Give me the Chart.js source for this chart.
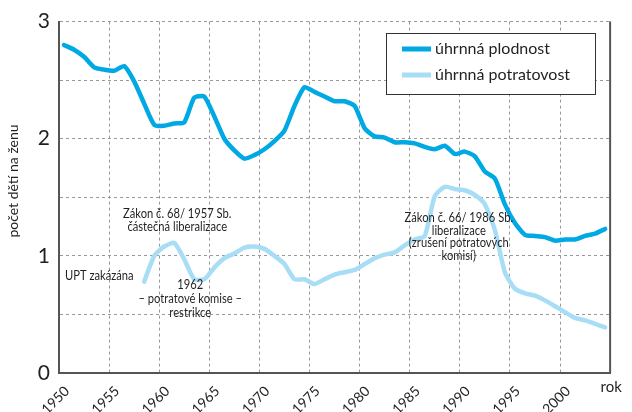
<!DOCTYPE html>
<html><head><meta charset="utf-8">
<title>Úhrnná plodnost a potratovost</title>
<script src="https://cdn.jsdelivr.net/npm/chart.js"></script>
<style>
  html, body { margin: 0; padding: 0; background: #ffffff; }
  #wrap { width: 632px; height: 412px; position: relative; }
</style>
</head>
<body>
<div id="wrap"><canvas id="chart" width="632" height="412"></canvas></div>
<script>
// roky a hodnoty
const plodnostYears = [1950,1951,1952,1953,1954,1955,1956,1957,1958,1959,
  1960,1961,1962,1963,1964,1965,1966,1967,1968,1969,
  1970,1971,1972,1973,1974,1975,1976,1977,1978,1979,
  1980,1981,1982,1983,1984,1985,1986,1987,1988,1989,
  1990,1991,1992,1993,1994,1995,1996,1997,1998,1999,
  2000,2001,2002,2003,2004];
const plodnost = [2.80,2.76,2.70,2.61,2.59,2.58,2.62,2.49,2.30,2.12,
  2.11,2.13,2.14,2.35,2.36,2.19,2.00,1.90,1.83,1.86,
  1.91,1.98,2.07,2.28,2.44,2.40,2.36,2.32,2.32,2.28,
  2.09,2.02,2.01,1.97,1.97,1.96,1.93,1.91,1.94,1.87,
  1.89,1.85,1.72,1.66,1.44,1.28,1.18,1.17,1.16,1.13,
  1.14,1.14,1.17,1.19,1.23];

const potratYears = [1958,1959,
  1960,1961,1962,1963,1964,1965,1966,1967,1968,1969,
  1970,1971,1972,1973,1974,1975,1976,1977,1978,1979,
  1980,1981,1982,1983,1984,1985,1986,1987,1988,1989,
  1990,1991,1992,1993,1994,1995,1996,1997,1998,1999,
  2000,2001,2002,2003,2004];
const potratovost = [0.78,1.00,
  1.08,1.11,0.97,0.80,0.80,0.90,0.98,1.02,1.07,1.08,
  1.06,1.00,0.93,0.80,0.80,0.76,0.80,0.84,0.86,0.88,
  0.93,0.98,1.01,1.03,1.09,1.14,1.17,1.51,1.59,1.57,
  1.56,1.52,1.44,1.22,0.86,0.72,0.68,0.66,0.62,0.57,
  0.52,0.47,0.45,0.42,0.39];

const seriesNames = ['úhrnná plodnost', 'úhrnná potratovost'];
const yTickLabels = ['0', '1', '2', '3'];

const notes = [
  { x: 1961.8, y: 1.36, align: 'center', lines: ['Zákon č. 68/ 1957 Sb.', 'částečná liberalizace'], lh: 13 },
  { x: 1957.45, y: 0.83, align: 'right', lines: ['UPT zakázána'], lh: 13 },
  { x: 1963.1, y: 0.75, align: 'center', lines: ['1962', '– potratové komise –', 'restrikce'], lh: 14 },
  { x: 1989.9, y: 1.325, align: 'center', lines: ['Zákon č. 66/ 1986 Sb.', 'liberalizace', '(zrušení potratových', 'komisí)'], lh: 12.7 }
];

const C_PLOD = '#00a9e4';
const C_POTR = '#a8ddf6';
const TXT = '#231f20';

// data bod leží uprostřed roku
const toPoints = (years, vals) => years.map((y, i) => ({ x: y + 0.5, y: vals[i] }));

const extras = {
  id: 'extras',
  afterDraw(chart) {
    const ctx = chart.ctx;
    const a = chart.chartArea;
    const xs = chart.scales.x, ys = chart.scales.y;
    ctx.save();

    // pravý okraj
    ctx.strokeStyle = '#555';
    ctx.lineWidth = 2;
    ctx.beginPath();
    ctx.moveTo(a.right, a.top);
    ctx.lineTo(a.right, a.bottom);
    ctx.stroke();

    // legenda
    ctx.fillStyle = '#fff';
    ctx.fillRect(386, 33, 209, 61);
    ctx.strokeStyle = '#333';
    ctx.lineWidth = 1;
    ctx.strokeRect(386.5, 33.5, 209, 61);
    [C_PLOD, C_POTR].forEach((c, i) => {
      const ly = 49 + i * 26;
      ctx.strokeStyle = c;
      ctx.lineWidth = 5;
      ctx.beginPath();
      ctx.moveTo(402, ly);
      ctx.lineTo(431, ly);
      ctx.stroke();
      ctx.fillStyle = TXT;
      ctx.font = '16px "Lato", sans-serif';
      ctx.textAlign = 'left';
      ctx.textBaseline = 'middle';
      ctx.fillText(seriesNames[i], 435, ly);
    });

    // poznámky (zúžené písmo)
    ctx.font = '13px "Lato", sans-serif';
    ctx.fillStyle = TXT;
    ctx.textBaseline = 'middle';
    notes.forEach(n => {
      const px = xs.getPixelForValue(n.x);
      const py = ys.getPixelForValue(n.y);
      ctx.textAlign = n.align;
      n.lines.forEach((t, i) => {
        ctx.save();
        ctx.translate(px, py + i * n.lh);
        ctx.scale(0.86, 1);
        ctx.fillText(t, 0, 0);
        ctx.restore();
      });
    });

    // popisek osy y
    ctx.save();
    ctx.translate(13, 181);
    ctx.rotate(-Math.PI / 2);
    ctx.font = '14px "Lato", sans-serif';
    ctx.textAlign = 'center';
    ctx.textBaseline = 'middle';
    ctx.fillText('počet dětí na ženu', 0, 0);
    ctx.restore();

    // popisek osy x
    ctx.font = '15px "Lato", sans-serif';
    ctx.textAlign = 'center';
    ctx.textBaseline = 'middle';
    ctx.fillText('rok', a.right + 1, 387);

    ctx.restore();
  }
};

new Chart(document.getElementById('chart'), {
  type: 'line',
  data: {
    datasets: [
      {
        label: seriesNames[0],
        data: toPoints(plodnostYears, plodnost),
        borderColor: C_PLOD,
        borderWidth: 4.5,
        pointRadius: 0,
        tension: 0.2,
        borderCapStyle: 'round',
        borderJoinStyle: 'round'
      },
      {
        label: seriesNames[1],
        data: toPoints(potratYears, potratovost),
        borderColor: C_POTR,
        borderWidth: 4.5,
        pointRadius: 0,
        tension: 0.2,
        borderCapStyle: 'round',
        borderJoinStyle: 'round'
      }
    ]
  },
  options: {
    responsive: false,
    animation: false,
    devicePixelRatio: 1,
    layout: { padding: { top: 13, right: 13, left: 0, bottom: 0 } },
    plugins: { legend: { display: false }, tooltip: { enabled: false } },
    scales: {
      x: {
        type: 'linear',
        min: 1950,
        max: 2005,
        grid: { color: '#999999', lineWidth: 1, drawTicks: false },
        border: { color: '#555', width: 2, dash: [3, 3] },
        ticks: {
          stepSize: 5,
          autoSkip: false,
          minRotation: 45,
          maxRotation: 45,
          padding: 10,
          labelOffset: 8,
          color: TXT,
          font: { family: 'Lato', size: 14 },
          callback: v => (v === 2005 ? '' : String(v))
        },
        afterFit: s => { s.height = 39; }
      },
      y: {
        min: 0,
        max: 3,
        grid: { color: '#999999', lineWidth: 1, drawTicks: false },
        border: { color: '#555', width: 2, dash: [3, 3] },
        ticks: {
          stepSize: 0.5,
          padding: 9,
          color: TXT,
          font: { family: 'Lato', size: 21 },
          callback: v => (Number.isInteger(v) ? yTickLabels[v] : '')
        },
        afterFit: s => { s.width = 59; }
      }
    }
  },
  plugins: [extras]
});
</script>
</body></html>
